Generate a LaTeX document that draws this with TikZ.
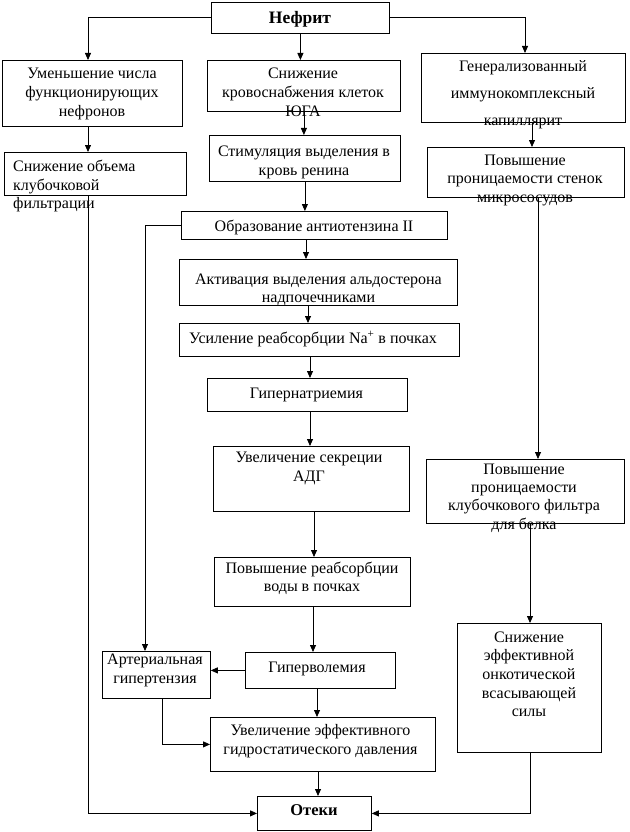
\documentclass[tikz,border=0pt]{standalone}
\usepackage{fontspec}
\setmainfont{Liberation Serif}
\usetikzlibrary{arrows.meta}
\newcommand\mtxt[6][]{%
  \foreach \mline [count=\i from 0] in {#6} {\node[txt, anchor=base, #1] (#2\i) at (#3, #4+\i*#5) {\mline};}}
\begin{document}
\begin{tikzpicture}[x=1pt,y=-1pt,
 box/.style={draw, line width=0.8pt, inner sep=0pt, anchor=north west},
 txt/.style={inner sep=0pt, font=\fontsize{16}{19}\selectfont},
 btxt/.style={inner sep=0pt, anchor=base, font=\fontsize{17.5}{20}\selectfont\bfseries},
 arr/.style={line width=0.8pt, -{Triangle[length=7pt,width=6pt]}}]
\useasboundingbox (0,0) rectangle (629,832);
% boxes
\node[box, minimum width=178pt, minimum height=31pt] (nef) at (211,2) {};
\node[box, minimum width=180pt, minimum height=66pt] (l1) at (2,60) {};
\node[box, minimum width=193pt, minimum height=51pt] (m1) at (207,60) {};
\node[box, minimum width=204pt, minimum height=69pt] (r1) at (421,53) {};
\node[box, minimum width=182pt, minimum height=43pt] (l2) at (4,152) {};
\node[box, minimum width=191pt, minimum height=46pt] (m2) at (209,135) {};
\node[box, minimum width=197pt, minimum height=50pt] (r2) at (427,147) {};
\node[box, minimum width=266pt, minimum height=28pt] (obr) at (181,211) {};
\node[box, minimum width=278pt, minimum height=46pt] (akt) at (179,259) {};
\node[box, minimum width=280pt, minimum height=33pt] (usi) at (179,323) {};
\node[box, minimum width=200pt, minimum height=33pt] (gip) at (207,378) {};
\node[box, minimum width=196pt, minimum height=65pt] (uvs) at (213,446) {};
\node[box, minimum width=198pt, minimum height=64pt] (r3) at (426,459) {};
\node[box, minimum width=196pt, minimum height=49pt] (pov) at (214,557) {};
\node[box, minimum width=144pt, minimum height=129pt] (r4) at (457,623) {};
\node[box, minimum width=108pt, minimum height=47pt] (art) at (102,651) {};
\node[box, minimum width=150pt, minimum height=36pt] (gpv) at (245,652) {};
\node[box, minimum width=225pt, minimum height=54pt] (uve) at (210,717) {};
\node[box, minimum width=114pt, minimum height=34pt] (ote) at (257,796) {};
% texts
\node[btxt] (tnef) at (300,24) {Нефрит};
\mtxt{tla}{92}{79}{18.7}{Уменьшение числа,функционирующих,нефронов}
\mtxt{tma}{303}{78.5}{19}{Снижение,кровоснабжения клеток,ЮГА}
\mtxt{tra}{523}{71.5}{27}{Генерализованный,иммунокомплексный,капиллярит}
\mtxt[anchor=base west]{tlb}{13}{171.5}{18.5}{Снижение объема,клубочковой,фильтрации}
\mtxt{tmb}{304}{156.7}{19}{Стимуляция выделения в,кровь ренина}
\mtxt{trb}{525}{165}{18.5}{Повышение,проницаемости стенок,микрососудов}
\mtxt{tobr}{314}{231}{19}{Образование антиотензина II}
\mtxt{takt}{318.5}{284}{18.5}{Активация выделения альдостерона,надпочечниками}
\mtxt{tusi}{313}{343.5}{19}{Усиление реабсорбции Na\textsuperscript{+} в почках}
\mtxt{tgip}{306.5}{398.5}{19}{Гипернатриемия}
\mtxt{tuvs}{309}{462.7}{19}{Увеличение секреции,АДГ}
\mtxt{trc}{524}{474}{18.4}{Повышение,проницаемости,клубочкового фильтра,для белка}
\mtxt{tpov}{312}{573}{18.6}{Повышение реабсорбции,воды в почках}
\mtxt{trd}{529}{642.3}{18.6}{Снижение,эффективной,онкотической,всасывающей,силы}
\mtxt{tart}{155}{664.5}{18.5}{Артериальная,гипертензия}
\mtxt{tgpv}{317}{672}{19}{Гиперволемия}
\mtxt{tuve}{320.5}{735}{19.5}{Увеличение эффективного,гидростатического давления}
\node[btxt, font=\fontsize{16.5}{19}\selectfont\bfseries] (tote) at (314,815.5) {Отеки};
% connectors
\draw[arr] (nef.west) -| ([xshift=86pt]l1.north west);
\draw[arr] (nef.south) -- (nef.south |- m1.north);
\draw[arr] (nef.east) -| ([xshift=104pt]r1.north west);
\draw[arr] ([xshift=86pt]l1.south west) -- ([xshift=84pt]l2.north west);
\draw[arr] (m1.south) -- (m1.south |- m2.north);
\draw[arr] ([xshift=111pt]r1.south west) -- ([xshift=105pt]r2.north west);
\draw[arr] ([xshift=84pt]l2.south west) |- (ote.west);
\draw[arr] (m2.south) -- (m2.south |- obr.north);
\draw[arr] (obr.west) -| ([xshift=43pt]art.north west);
\draw[arr] ([xshift=125pt]obr.south west) -- ([xshift=127pt]akt.north west);
\draw[arr] ([xshift=129pt]akt.south west) -- ([xshift=129pt]usi.north west);
\draw[arr] ([xshift=131pt]usi.south west) -- ([xshift=103pt]gip.north west);
\draw[arr] ([xshift=103pt]gip.south west) -- ([xshift=97pt]uvs.north west);
\draw[arr] ([xshift=101pt]uvs.south west) -- ([xshift=100pt]pov.north west);
\draw[arr] ([xshift=99pt]pov.south west) -- ([xshift=68pt]gpv.north west);
\draw[arr] ([xshift=111pt]r2.south west) -- ([xshift=112pt]r3.north west);
\draw[arr] ([xshift=104pt]r3.south west) -- ([xshift=73pt]r4.north west);
\draw[arr] (gpv.west) -- (gpv.west -| art.east);
\draw[arr] ([xshift=72pt]gpv.south west) -- ([xshift=107pt]uve.north west);
\draw[arr] ([xshift=60pt]art.south west) |- (uve.west);
\draw[arr] ([xshift=108pt]uve.south west) -- ([xshift=61pt]ote.north west);
\draw[arr] ([xshift=73pt]r4.south west) |- (ote.east);
\end{tikzpicture}
\end{document}
